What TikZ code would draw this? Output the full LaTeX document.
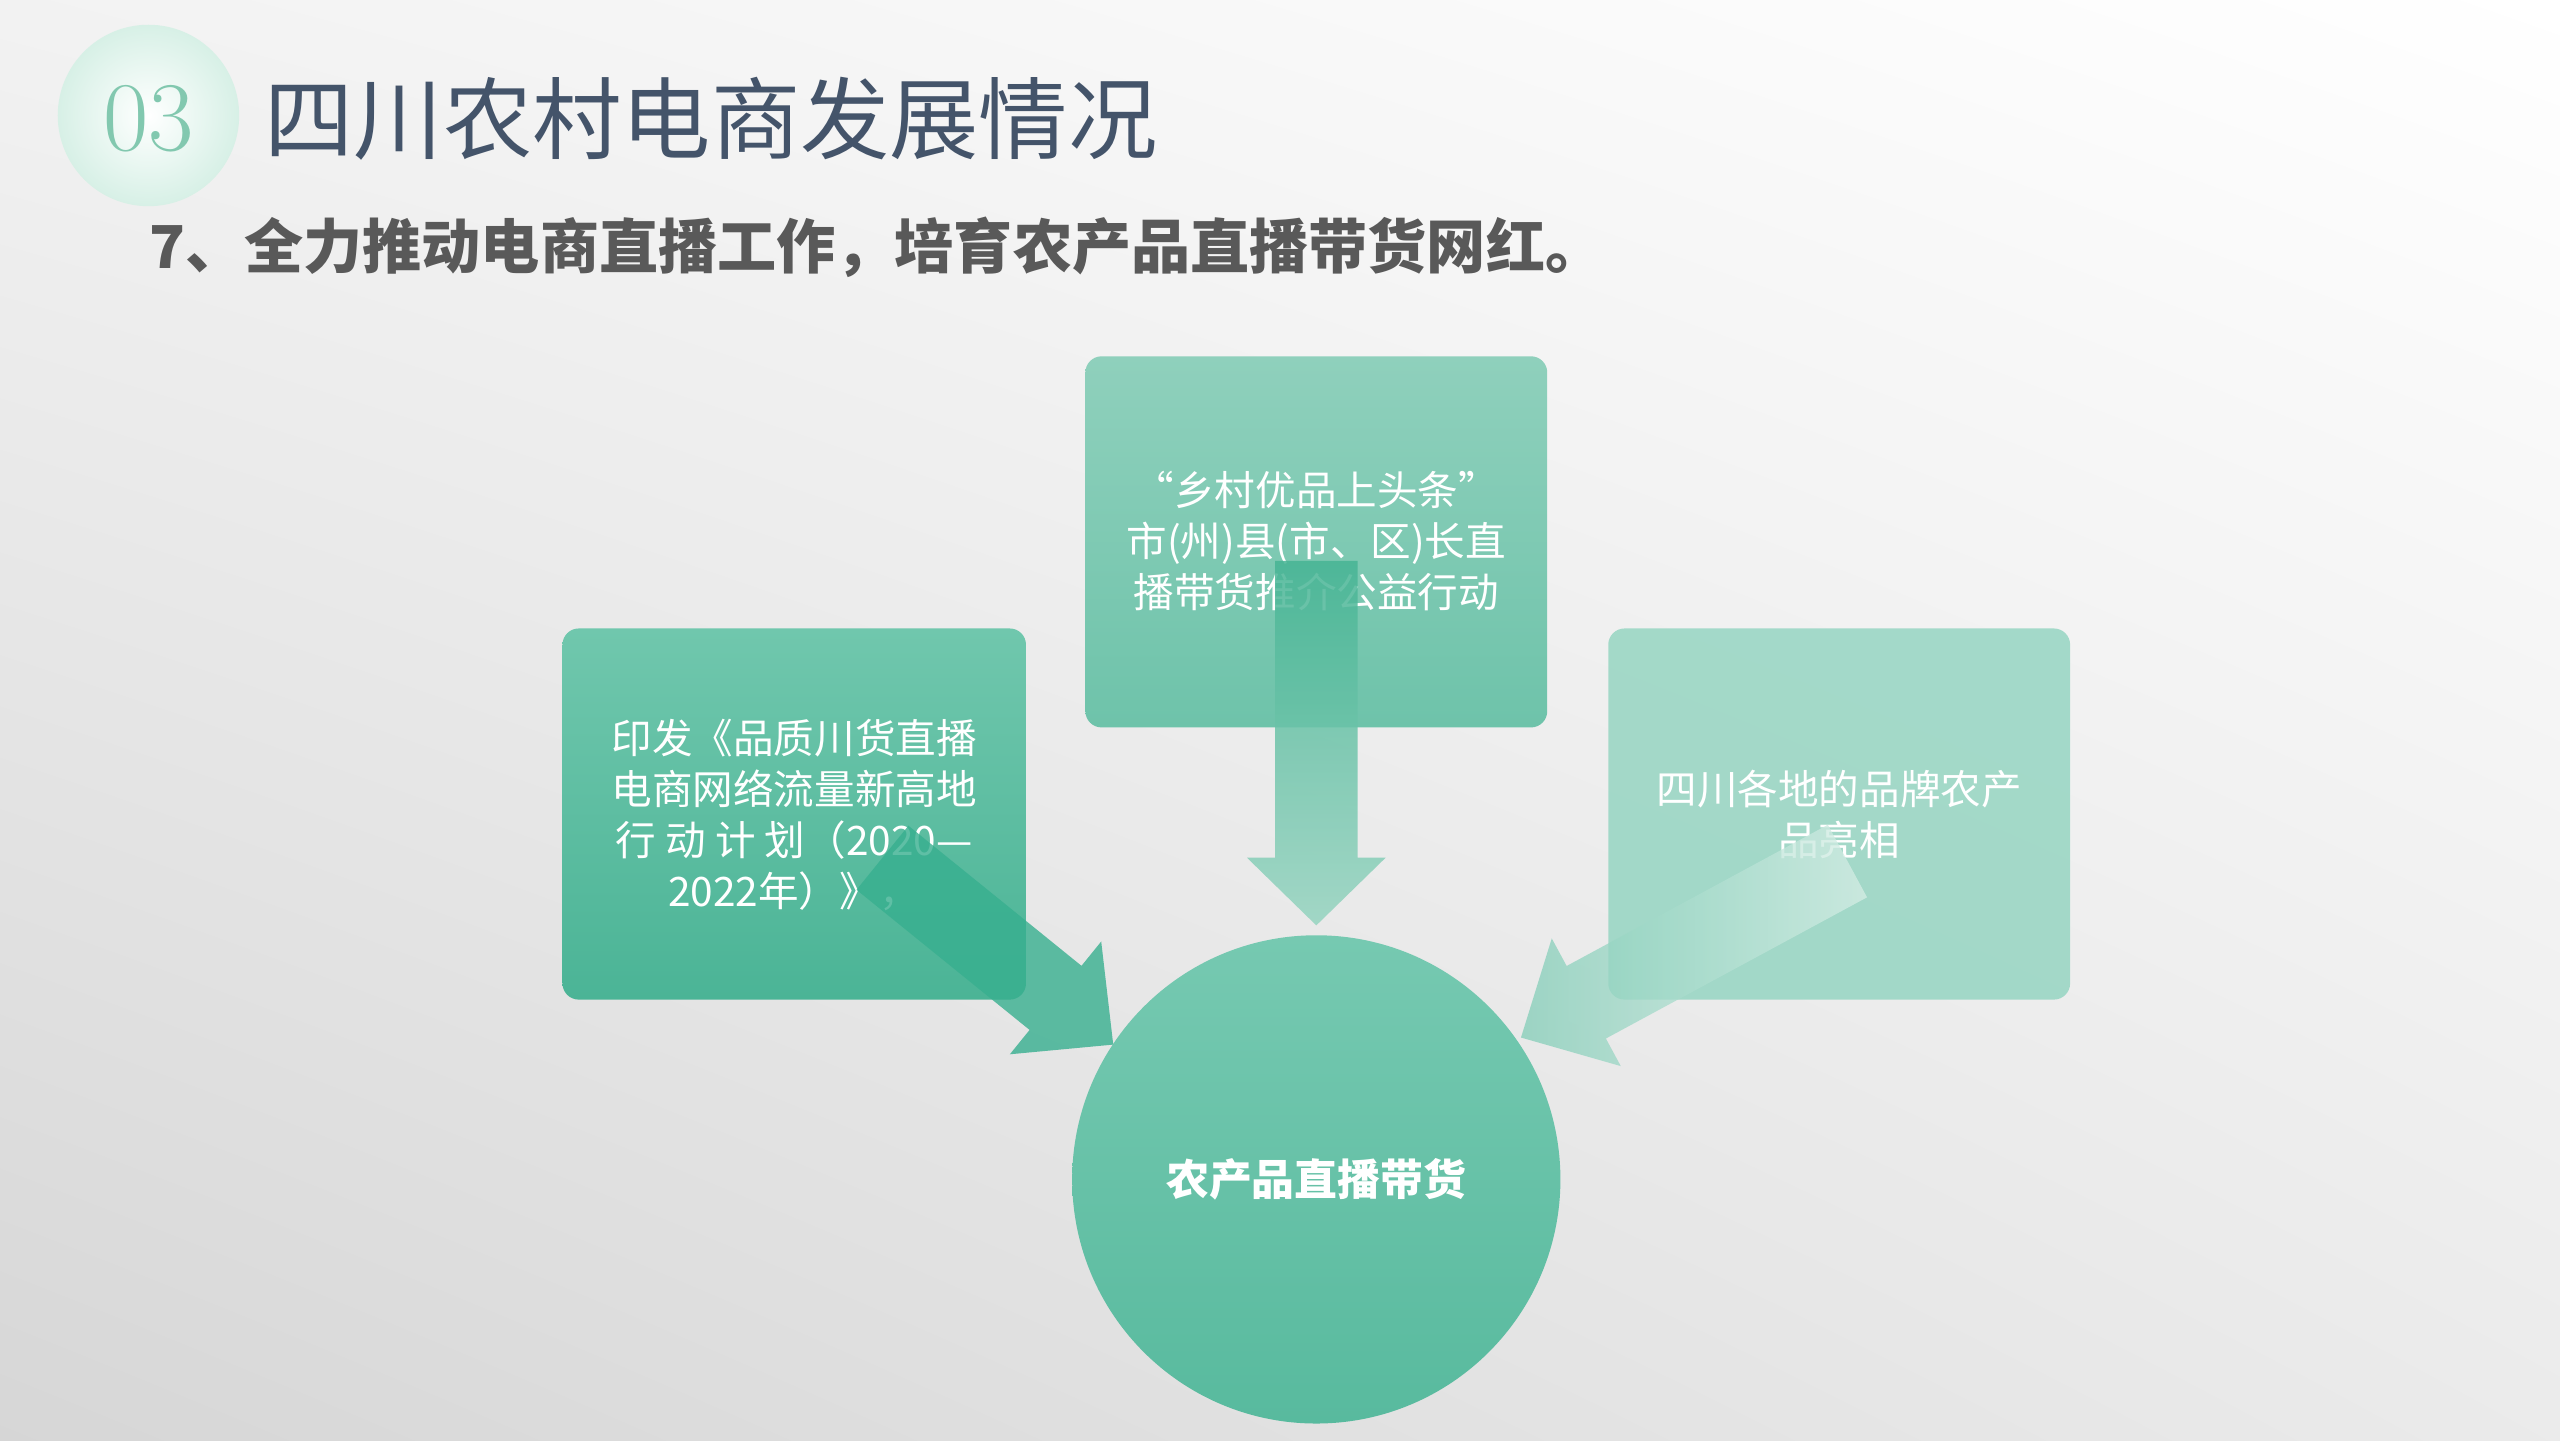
\documentclass[tikz,border=0pt]{standalone}
\usepackage{fontspec}
\newfontfamily\cjk{Noto Sans CJK SC}
\usetikzlibrary{shapes.geometric,shadings}
\definecolor{titleblue}{HTML}{44546A}
\definecolor{subgray}{HTML}{595959}
\definecolor{topA}{RGB}{143,208,188}
\definecolor{topB}{RGB}{110,195,170}
\definecolor{leftA}{RGB}{112,199,173}
\definecolor{leftB}{RGB}{75,180,150}
\definecolor{rightA}{RGB}{150,213,194}
\definecolor{circA}{RGB}{118,201,177}
\definecolor{circB}{RGB}{88,186,158}
\definecolor{darrA}{RGB}{70,180,148}
\definecolor{darrB}{RGB}{150,212,192}
\definecolor{larr}{RGB}{55,175,143}
\definecolor{rarrA}{RGB}{130,205,183}
\definecolor{rarrB}{RGB}{215,238,230}
\definecolor{numc}{RGB}{130,200,175}
\definecolor{halo}{RGB}{215,240,230}
\tikzset{
  box/.style={minimum width=280*0.05cm,minimum height=225*0.05cm,align=center,text=white,font=\cjk\fontsize{35}{44}\selectfont,inner sep=0pt},
}
\begin{document}
\begin{tikzpicture}[x=0.05cm,y=-0.05cm]
\useasboundingbox (0,0) rectangle (1552,873);
\shade[upper right=white,lower left=black!16,upper left=black!5,lower right=black!8] (0,0) rectangle (1552,873);
% header circle
\shade[inner color=white,outer color=halo] (90,70) circle (55);
\node[font=\fontsize{85}{85}\selectfont,text=numc] (num) at (90,72) {03};
\node[anchor=west,font=\cjk\fontsize{77}{80}\selectfont,text=titleblue] (title) at (158,72) {四川农村电商发展情况};
\node[anchor=west,font=\cjk\bfseries\fontsize{51}{55}\selectfont,text=subgray] (sub) at (88,150) {7、全力推动电商直播工作，培育农产品直播带货网红。};
% boxes
\shade[rounded corners=14pt,top color=topA,bottom color=topB] (658,216) rectangle (938,441);
\node[box] (top) at (798,328) {“乡村优品上头条”\\市(州)县(市、区)长直\\播带货推介公益行动};
\shade[rounded corners=14pt,top color=leftA,bottom color=leftB] (341,381) rectangle (622,606);
\node[box] (left) at (481.5,494) {印发《品质川货直播\\电商网络流量新高地\\行 动 计 划（2020—\\2022年）》，};
\fill[rounded corners=14pt,rightA,opacity=0.85] (975,381) rectangle (1255,606);
\node[box] (right) at (1115,494) {四川各地的品牌农产\\品亮相};
% circle
\shade[top color=circA,bottom color=circB] (798,715) circle (148);
\node[font=\cjk\bfseries\fontsize{37}{40}\selectfont,text=white] (center) at (798,715) {农产品直播带货};
% down arrow
\shade[top color=darrA,bottom color=darrB,opacity=0.85]
  (773,340) -- (823,340) -- (823,520) -- (840,520) -- (798,561) -- (756,520) -- (773,520) -- cycle;
% left arrow
\begin{scope}[shift={(535,520)},rotate=-39]
\fill[larr,opacity=0.8] (0,-25) -- (135,-25) -- (135,-44) -- (180,0) -- (135,44) -- (135,25) -- (0,25) -- cycle;
\end{scope}
% right arrow
\begin{scope}[shift={(1120,522)},rotate=-151.6]
\shade[left color=rarrA,right color=rarrB,opacity=0.75] (0,-25) -- (180,-25) -- (180,-44) -- (225,0) -- (180,44) -- (180,25) -- (0,25) -- cycle;
\end{scope}
\end{tikzpicture}
\end{document}
